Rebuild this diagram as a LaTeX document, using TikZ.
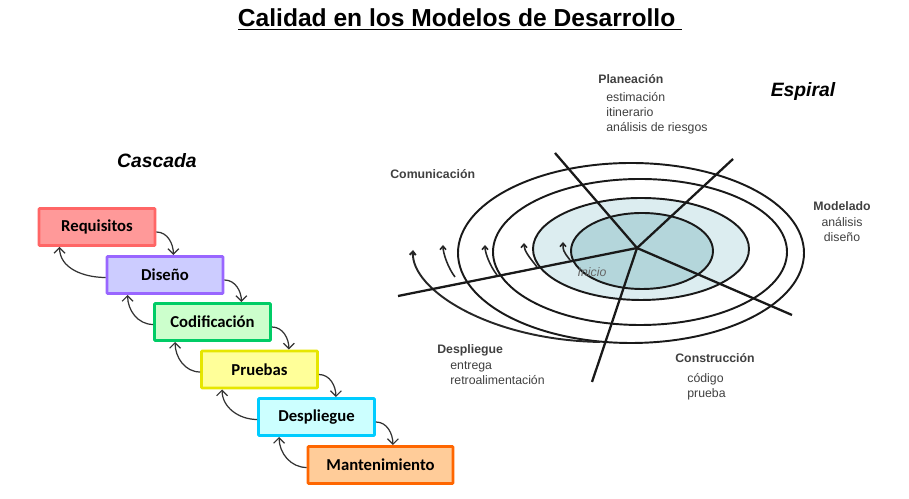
\documentclass[tikz,border=0pt]{standalone}
\usepackage{fontspec}
\setmainfont{Liberation Sans}
\newfontfamily\stagefont{Carlito}
\usetikzlibrary{arrows.meta,calc}
\definecolor{reqfill}{HTML}{FF9999}
\definecolor{reqline}{HTML}{FF6666}
\definecolor{disfill}{HTML}{CCCCFF}
\definecolor{disline}{HTML}{9966FF}
\definecolor{codfill}{HTML}{CCFFCC}
\definecolor{codline}{HTML}{00CC66}
\definecolor{prufill}{HTML}{FFFF99}
\definecolor{pruline}{HTML}{E6E600}
\definecolor{desfill}{HTML}{CCFFFF}
\definecolor{desline}{HTML}{00CCFF}
\definecolor{manfill}{HTML}{FFCC99}
\definecolor{manline}{HTML}{FF6600}
\definecolor{coreteal}{HTML}{B4D6DB}
\definecolor{paleteal}{HTML}{DCEDF0}
\newcommand{\ind}[1]{\hspace*{#1}}
\tikzset{
  % titulos
  title/.style={font=\fontsize{14}{16}\selectfont\bfseries,inner sep=0pt},
  caption/.style={font=\fontsize{11}{13}\selectfont\bfseries\itshape,inner sep=0pt},
  % cascada
  stage/.style={draw,line width=1.6pt,minimum width=2.32cm,minimum height=0.74cm,
                inner sep=0pt,rounded corners=0.5pt,
                font=\stagefont\bfseries\fontsize{9.5}{11}\selectfont},
  fwd/.style={-{Straight Barb[length=1.1mm,width=2.2mm]},draw=black!80,line width=0.7pt},
  back/.style={-{Straight Barb[length=1.1mm,width=2.2mm]},draw=black!80,line width=0.7pt},
  % espiral
  ring/.style={draw=black!90,line width=1.1pt},
  arm/.style={draw=black!90,line width=1.3pt},
  tick/.style={-{Straight Barb[length=0.7mm,width=1.2mm]},draw=black!85,line width=0.9pt},
  lbl/.style={font=\fontsize{7}{8.4}\selectfont,text=black!75,inner sep=0pt,
              align=left,anchor=north west},
}
\begin{document}
\begin{tikzpicture}[x=0.02cm,y=0.02cm]
  \useasboundingbox (0,0) rectangle (909,499);
  \node[title,anchor=base] (title) at (460,472) {\underline{Calidad en los Modelos de Desarrollo\ }};
  \node[caption,anchor=base] (cascada) at (157,331) {Cascada};
  \node[caption,anchor=base] (espiral) at (803,402) {Espiral};

  % modelo en cascada
  \node[stage,fill=reqfill,draw=reqline] (req) at (97,272) {Requisitos};
  \node[stage,fill=disfill,draw=disline] (dis) at (165,224) {Diseño};
  \node[stage,fill=codfill,draw=codline] (cod) at (212.5,177) {Codificación};
  \node[stage,fill=prufill,draw=pruline] (pru) at (259.5,129.5) {Pruebas};
  \node[stage,fill=desfill,draw=desline] (des) at (316.5,82) {Despliegue};
  \node[stage,fill=manfill,draw=manline,minimum width=2.9cm] (man) at (380.5,34) {Mantenimiento};
  \foreach \a/\b in {req/dis,dis/cod,cod/pru,pru/des,des/man}{
    \draw[fwd] ([yshift=-0.1cm]\a.east) to[out=0,in=90] ($(\a.east |- \b.north)+(17,0)$);
    \draw[back] ([yshift=-0.05cm]\b.west) to[out=180,in=-90] ($(\a.south west)+(22,0)$);
  }

  % modelo en espiral
  \fill[paleteal] (641,250) ellipse [x radius=108,y radius=51];
  \fill[coreteal] (642,248) ellipse [x radius=71,y radius=38];
  \draw[ring] (642,248) ellipse [x radius=71,y radius=38];
  \draw[ring] (641,250) ellipse [x radius=108,y radius=51];
  \draw[ring] (640,247) ellipse [x radius=147,y radius=73];
  \draw[ring] (631,246) ellipse [x radius=173,y radius=90];
  \draw[tick,line width=1.1pt] (600,157) .. controls (490,159) and (411,209) .. (413,249);
  \foreach \bx/\by/\tx/\ty in {455/222/443/254,497/224/485/254,537/232/524/256,570/239/563/257}
    \draw[tick] (\bx,\by) .. controls ($(\bx,\by)+(-7,9)$) and ($(\tx,\ty)+(0,-8)$) .. (\tx,\ty);
  \coordinate (hub) at (637,251);
  \foreach \p in {(555,346),(733,340),(792,184),(592,117),(398,203)}
    \draw[arm] (hub) -- \p;
  \node[font=\fontsize{7}{8}\selectfont\itshape,text=black!60,inner sep=0pt] (inicio) at (592,227) {Inicio};

  \node[lbl] (plan) at (598,425) {\textbf{Planeación}\\[2pt]
    \ind{0.16cm}estimación\\ \ind{0.16cm}itinerario\\ \ind{0.16cm}análisis de riesgos};
  \node[lbl] (comu) at (390,330) {\textbf{Comunicación}};
  \node[lbl,align=center,anchor=north] (mode) at (842,298) {\textbf{Modelado}\\[1pt] análisis\\ diseño};
  \node[lbl] (depl) at (437,155) {\textbf{Despliegue}\\[1pt]
    \ind{0.26cm}entrega\\ \ind{0.26cm}retroalimentación};
  \node[lbl] (cons) at (675,146) {\textbf{Construcción}\\[3pt]
    \ind{0.24cm}código\\ \ind{0.24cm}prueba};
\end{tikzpicture}
\end{document}
